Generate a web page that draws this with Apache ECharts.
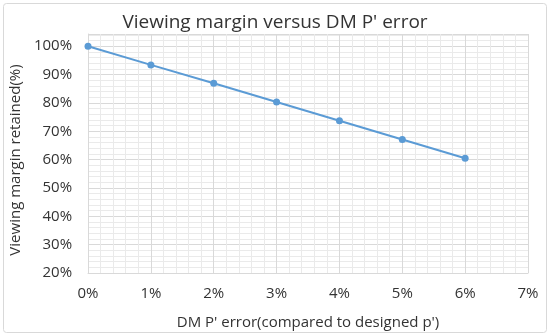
<!DOCTYPE html>
<html>
<head>
<meta charset="utf-8">
<script src="https://cdn.jsdelivr.net/npm/echarts@6/dist/echarts.min.js"></script>
<style>
html,body{margin:0;padding:0;background:#fff;}
#chart{width:550px;height:336px;}
</style>
</head>
<body>
<div id="chart"></div>
<script>
const titleText = "Viewing margin versus DM P' error";
const xAxisName = "DM P' error(compared to designed p')";
const yAxisName = "Viewing margin retained(%)";
const errorPercent = [0, 1, 2, 3, 4, 5, 6];
const marginRetained = [100, 93.4, 86.9, 80.3, 73.7, 67.1, 60.5];
const yTicks = [20, 30, 40, 50, 60, 70, 80, 90, 100];
const xTicks = [0, 1, 2, 3, 4, 5, 6, 7];

const font = "'Open Sans', 'Liberation Sans', sans-serif";
const chart = echarts.init(document.getElementById('chart'), null, {renderer: 'canvas'});
chart.setOption({
  animation: false,
  backgroundColor: '#fff',
  title: {
    text: titleText,
    left: 'center',
    top: 8,
    textStyle: {fontFamily: font, fontSize: 19, fontWeight: 'normal', color: '#333333'}
  },
  graphic: [{
    type: 'rect',
    shape: {x: 3.5, y: 3.5, width: 543, height: 329, r: 3},
    style: {fill: 'none', stroke: '#D9D9D9', lineWidth: 1},
    silent: true
  }],
  grid: {left: 87, right: 22, top: 34, bottom: 63},
  xAxis: {
    type: 'value',
    min: xTicks[0],
    max: xTicks[xTicks.length - 1],
    interval: 1,
    name: xAxisName,
    nameLocation: 'middle',
    nameGap: 42,
    nameTextStyle: {fontFamily: font, fontSize: 15, color: '#333333'},
    axisLine: {show: true, lineStyle: {color: '#D9D9D9'}},
    axisTick: {show: false},
    axisLabel: {margin: 13, fontFamily: font, fontSize: 15, color: '#333333', formatter: v => v + '%'},
    splitLine: {show: true, lineStyle: {color: '#D9D9D9', width: 1}},
    minorTick: {show: false, splitNumber: 5},
    minorSplitLine: {show: true, lineStyle: {color: '#EAEAEA', width: 1}}
  },
  yAxis: {
    type: 'value',
    min: yTicks[0],
    max: 104.3,
    interval: 10,
    name: yAxisName,
    nameLocation: 'middle',
    nameGap: 60,
    nameTextStyle: {fontFamily: font, fontSize: 15, color: '#333333', padding: [0, 13, 0, 0]},
    axisLine: {show: true, lineStyle: {color: '#D9D9D9'}},
    axisTick: {show: false},
    axisLabel: {margin: 16, fontFamily: font, fontSize: 15, color: '#333333',
      formatter: v => (yTicks.indexOf(Math.round(v * 100) / 100) >= 0 ? v + '%' : '')},
    splitLine: {show: true, lineStyle: {color: '#D9D9D9', width: 1}},
    minorTick: {show: false, splitNumber: 5},
    minorSplitLine: {show: true, lineStyle: {color: '#EAEAEA', width: 1}}
  },
  series: [{
    type: 'line',
    data: errorPercent.map((x, i) => [x, marginRetained[i]]),
    symbol: 'circle',
    symbolSize: 7,
    lineStyle: {color: '#5B9BD5', width: 2},
    itemStyle: {color: '#5B9BD5'}
  }]
});
</script>
</body>
</html>
